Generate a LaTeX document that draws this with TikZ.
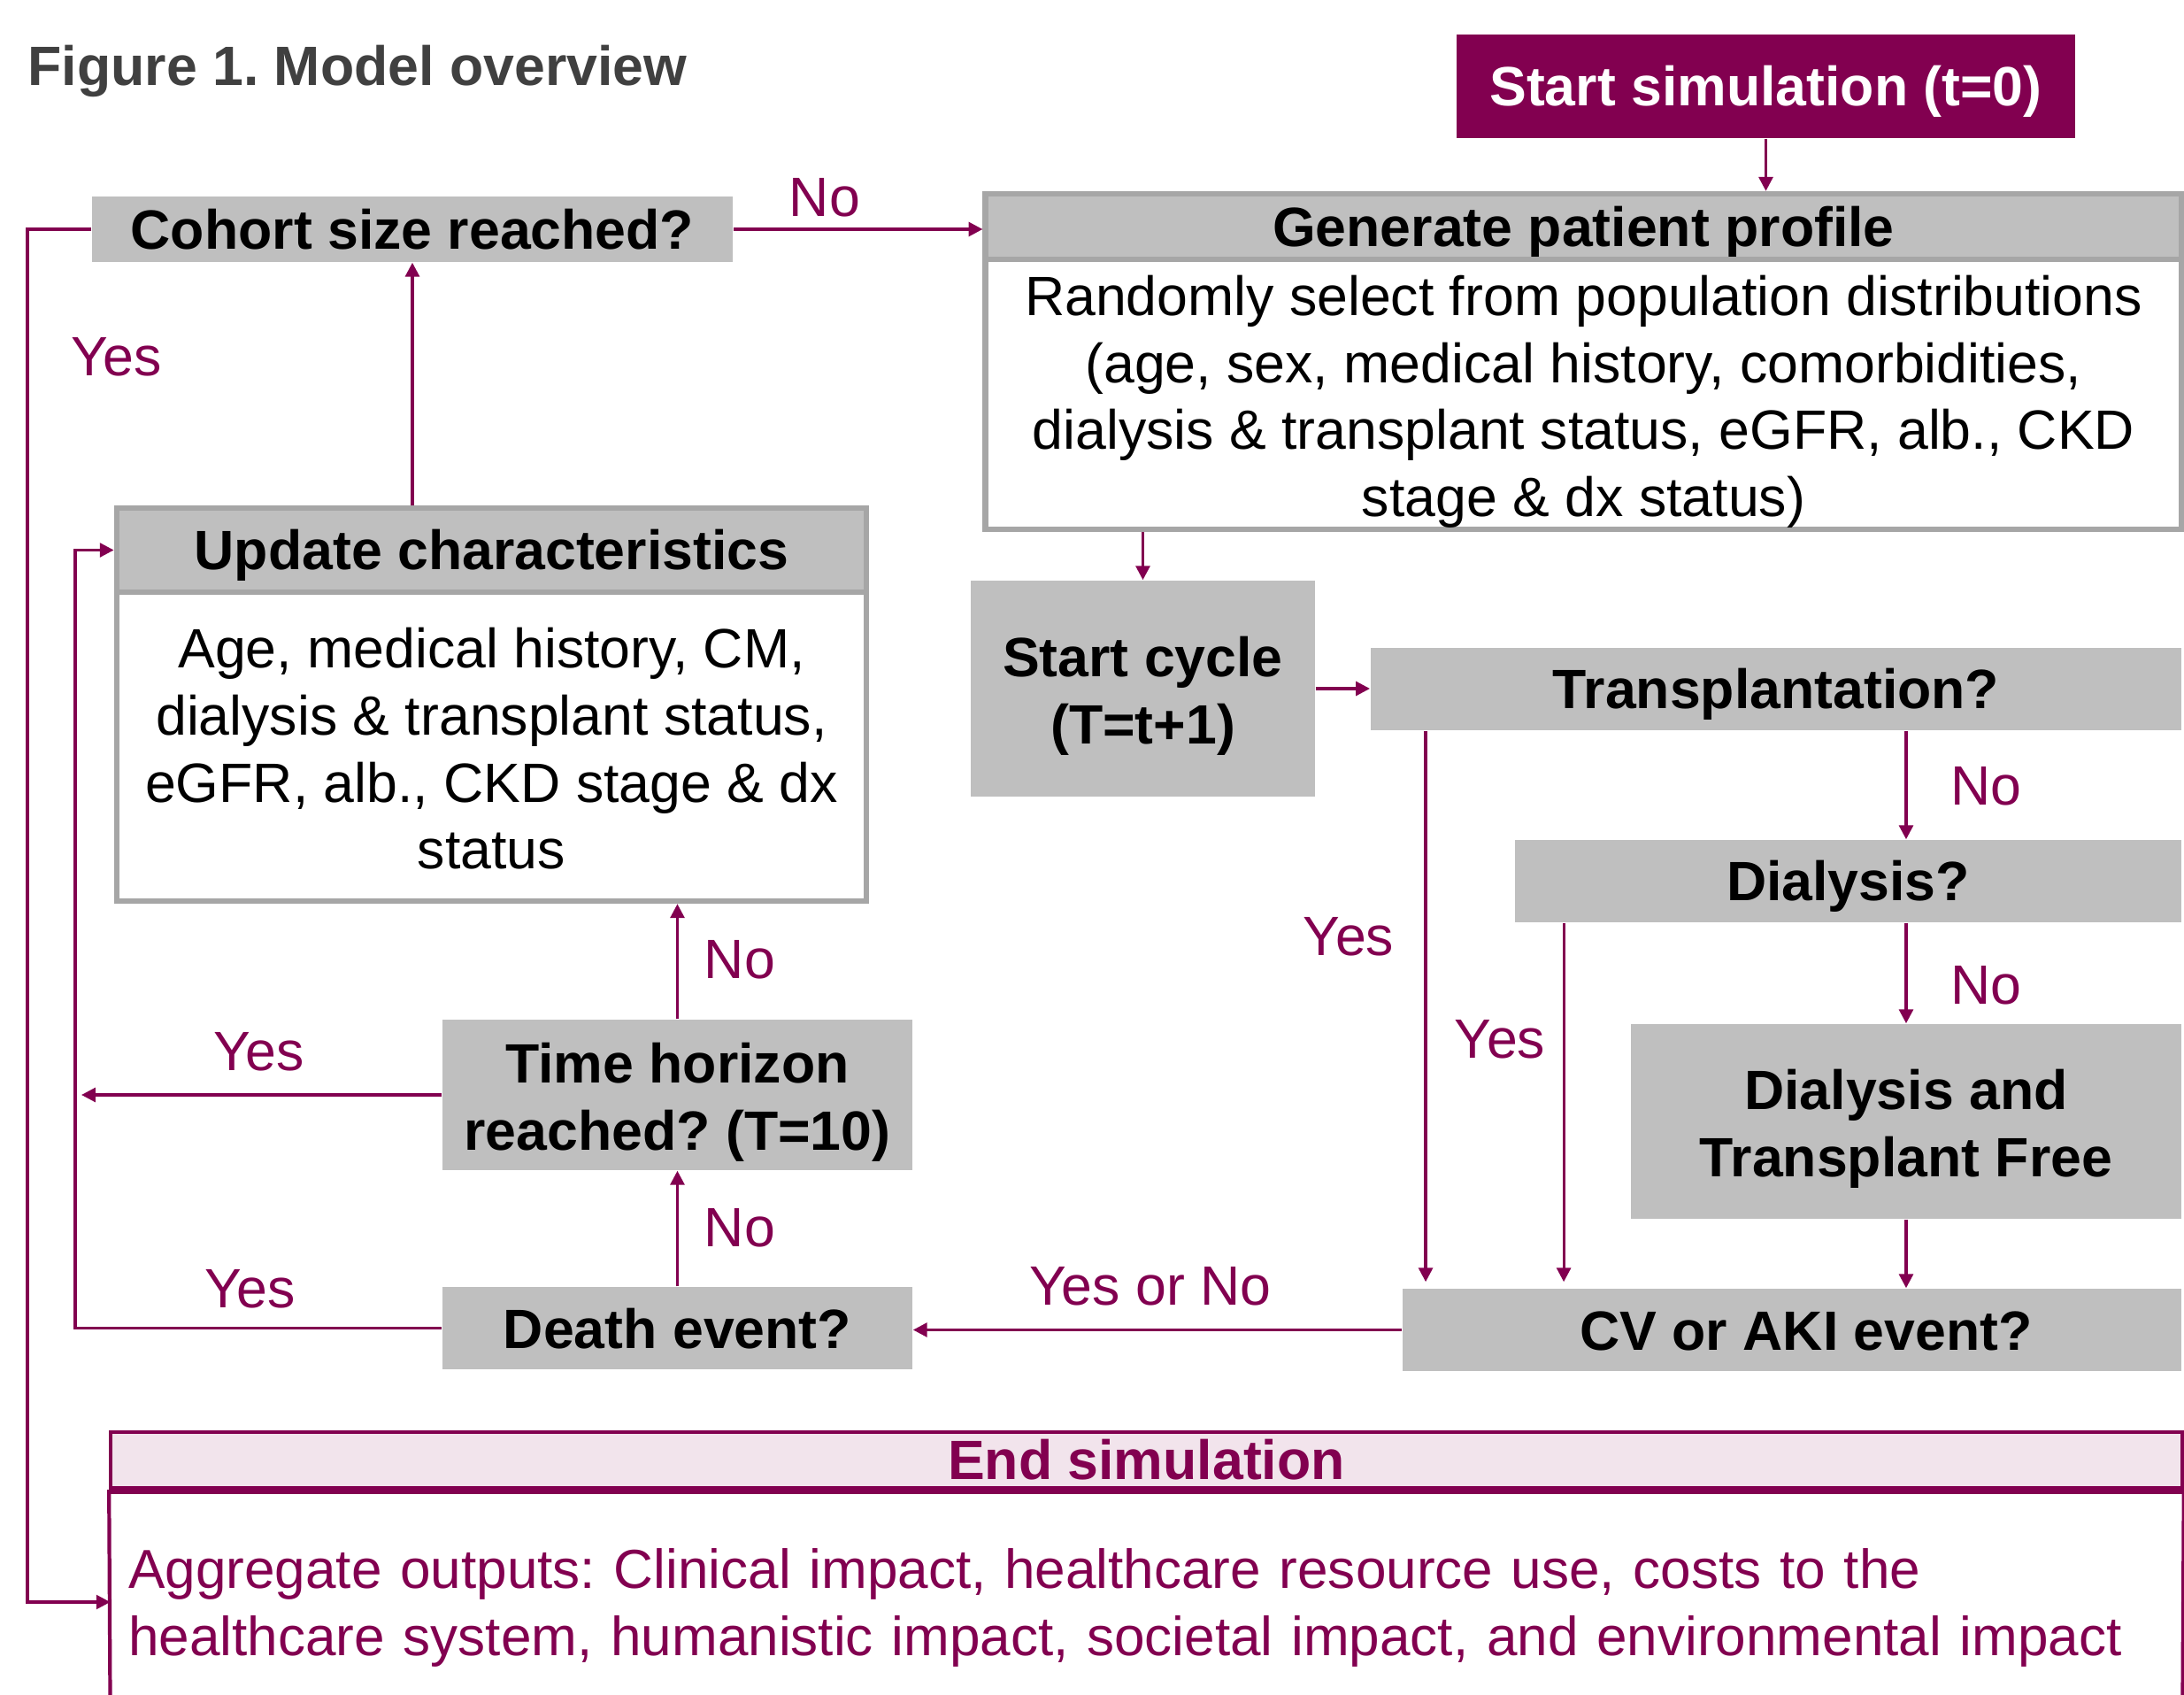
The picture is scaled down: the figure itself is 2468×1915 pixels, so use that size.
\documentclass[tikz,border=0pt]{standalone}
\usepackage{fontspec}
\setmainfont{Liberation Sans}
\usepackage{xcolor}
\usepackage{tikz}
\usetikzlibrary{arrows.meta,positioning}
\definecolor{simpurple}{RGB}{130,0,80}
\definecolor{boxgray}{RGB}{191,191,191}
\definecolor{edgegray}{RGB}{166,166,166}
\definecolor{titlegray}{RGB}{64,64,64}
\definecolor{endpink}{RGB}{242,228,236}
\newcommand{\boxstrut}{\rule[-0.2em]{0pt}{1.12em}}
\newcommand{\firststrut}{\rule{0pt}{0.99em}}
\frenchspacing

\begin{document}
\begin{tikzpicture}[x=0.01cm, y=-0.01cm,
    struts/.style={execute at begin node=\boxstrut, execute at end node=\boxstrut},
    graybox/.style={rectangle, fill=boxgray, inner sep=0pt, align=center, struts, font=\fontsize{17.8}{21.5}\selectfont\bfseries},
    headbox/.style={graybox, draw=edgegray, line width=1.8pt},
    bodybox/.style={rectangle, draw=edgegray, line width=1.8pt, fill=white, inner sep=0pt, align=center, struts, font=\fontsize{17.8}{21.5}\selectfont},
    lbl/.style={text=simpurple, inner sep=0pt, font=\fontsize{17.8}{21.5}\selectfont},
    arrow/.style={-{Triangle[length=4.5pt,width=4.5pt]}, draw=simpurple, line width=0.9pt}
]
    \useasboundingbox (0,0) rectangle (2468,1915);

    \node[anchor=west, inner sep=0pt, struts, text=titlegray, font=\fontsize{17.8}{21.5}\selectfont\bfseries] (title) at (31,74) {Figure 1. Model overview};

    \node[graybox, fill=simpurple, text=white, minimum width=6.99cm, minimum height=1.17cm] (start) at (1995.5,97.5) {Start simulation (t=0)};
    \node[headbox, minimum width=13.51cm, minimum height=0.74cm] (genh) at (1789.5,256) {Generate patient profile};
    \node[bodybox, minimum width=13.51cm, minimum height=3.05cm] (genb) at (1789.5,445.5) {\firststrut Randomly select from population distributions\\(age, sex, medical history, comorbidities,\\dialysis \& transplant status, eGFR, alb., CKD\\stage \& dx status)};
    \node[graybox, minimum width=7.24cm, minimum height=0.74cm] (cohort) at (466,259) {Cohort size reached?};
    \node[headbox, minimum width=8.47cm, minimum height=0.95cm] (updh) at (555.5,621.5) {Update characteristics};
    \node[bodybox, minimum width=8.47cm, minimum height=3.49cm] (updb) at (555.5,843.5) {\firststrut Age, medical history, CM,\\dialysis \& transplant status,\\eGFR, alb., CKD stage \& dx\\status};
    \node[graybox, minimum width=3.89cm, minimum height=2.44cm] (cycle) at (1291.5,778) {\firststrut Start cycle\\(T=t+1)};
    \node[graybox, minimum width=9.16cm, minimum height=0.93cm] (trans) at (2007,778.5) {Transplantation?};
    \node[graybox, minimum width=7.53cm, minimum height=0.93cm] (dial) at (2088.5,995.5) {Dialysis?};
    \node[graybox, minimum width=6.22cm, minimum height=2.20cm] (dtf) at (2154,1267) {\firststrut Dialysis and\\Transplant Free};
    \node[graybox, minimum width=8.80cm, minimum height=0.93cm] (cv) at (2025,1502.5) {\hspace*{0.32cm}CV or AKI event?};
    \node[graybox, minimum width=5.31cm, minimum height=0.93cm] (death) at (765.5,1500.5) {Death event?};
    \node[graybox, minimum width=5.31cm, minimum height=1.70cm] (time) at (765.5,1237) {\firststrut Time horizon\\reached? (T=10)};

    % end of simulation
    \node[rectangle, draw=simpurple, line width=1.2pt, fill=endpink, text=simpurple, inner sep=0pt, minimum width=23.39cm, minimum height=0.63cm, font=\fontsize{17.8}{21.5}\selectfont\bfseries] (endh) at (1295.5,1649.5) {End simulation};
    \node[rectangle, inner sep=0pt, inner xsep=0.2cm, text width=22.99cm, minimum height=2.58cm, align=left, struts, text=simpurple, font=\fontsize{17.65}{21.6}\selectfont] (endb) at (1295.5,1810) {Aggregate outputs: Clinical impact, healthcare resource use, costs to the\\healthcare system, humanistic impact, societal impact, and environmental impact};
    \draw[simpurple, line width=2.5pt] (endh.south west) -- (endh.south east);
    \draw[simpurple, line width=1.2pt] (endh.south west) -- (endb.south west);
    \draw[simpurple, line width=1.2pt] (endh.south east) -- (endb.south east);

    \coordinate (leftA) at (31,1810);
    \coordinate (leftB) at (85,1500.5);

    \draw[arrow] (start.south) -- (start.south |- genh.north);
    \draw[arrow] (cohort.east) -- (cohort.east -| genh.west);
    \draw[arrow] (cohort.west) -| (leftA) -- (endb.west);
    \draw[arrow] (updh.north -| cohort.south) -- (cohort.south);
    \draw[arrow] (genb.south -| cycle.north) -- (cycle.north);
    \draw[arrow] (cycle.east) -- (cycle.east -| trans.west);
    \draw[arrow] (trans.south -| dtf.north) -- (dial.north -| dtf.north);
    \draw[arrow] (dial.south -| dtf.north) -- (dtf.north);
    \draw[arrow] (dtf.south) -- (dtf.south |- cv.north);
    \draw[arrow, shorten >=2pt] ([xshift=0.63cm]trans.south west) -- ([xshift=0.63cm]trans.south west |- cv.north);
    \draw[arrow, shorten >=2pt] ([xshift=0.56cm]dial.south west) -- ([xshift=0.56cm]dial.south west |- cv.north);
    \draw[arrow] (cv.west) -- (cv.west -| death.east);
    \draw[arrow] (death.north) -- (time.south);
    \draw[arrow] (time.north) -- (time.north |- updb.south);
    \draw[arrow, shorten >=2pt] (time.west) -- (time.west -| leftB);
    \draw[arrow] (death.west) -- (leftB) |- (updh.west);

    \node[lbl] (noCohort) at (932,223) {No};
    \node[lbl] (yesCohort) at (132,403) {Yes};
    \node[lbl] (noTrans) at (2244,888) {No};
    \node[lbl] (noDial) at (2244,1113) {No};
    \node[lbl] (yesTrans) at (1524,1058) {Yes};
    \node[lbl] (yesDial) at (1695,1174) {Yes};
    \node[lbl] (eitherCv) at (1300,1453) {Yes or No};
    \node[lbl] (noDeath) at (836,1387) {No};
    \node[lbl] (noTime) at (836,1084) {No};
    \node[lbl] (yesTime) at (293,1188) {Yes};
    \node[lbl] (yesDeath) at (283,1456) {Yes};
\end{tikzpicture}
\end{document}
